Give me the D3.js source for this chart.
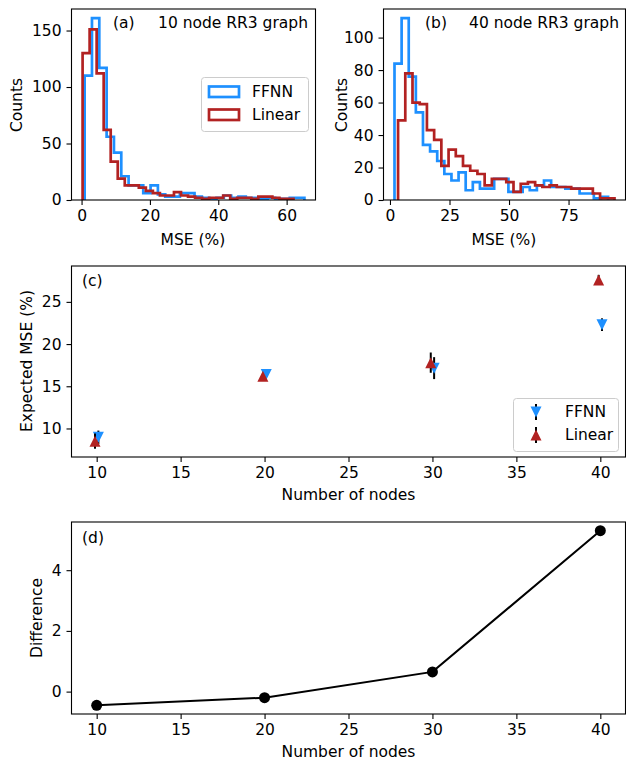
<!DOCTYPE html>
<html>
<head>
<meta charset="utf-8">
<script src="https://cdn.jsdelivr.net/npm/d3@7"></script>
<style>
  body { margin: 0; background: #fff; }
  svg { font-family: "DejaVu Sans", sans-serif; }
</style>
</head>
<body>
<svg id="fig" width="626" height="766"></svg>
<script>
// ---- data ----
// histogram counts (30 bins each) and the bin range of each histogram
let histA_ffnn   = [110,161,117,56,42,21,13,13,6,13,5,3,3,6,6,3,2,1,2,4,2,3,2,2,1,2,1,1,2,2]
let histA_linear = [130,151,112,62,34,19,13,13,11,8,6,4,4,7,4,3,2,1,2,2,4,1,2,2,1,3,3,2,1,1]
let rangeA_ffnn   = [0.9, 65.2]
let rangeA_linear = [0.3, 62.0]

let histB_ffnn   = [84,112,76,54,34,30,24,16,12,17,6,11,7,7,13,13,5,5,8,6,9,12,8,8,7,7,4,4,1,2]
let histB_linear = [49,78,60,59,43,37,21,31,27,21,18,16,9,13,13,11,5,10,11,9,8,9,8,8,7,7,7,4,1,1]
let rangeB_ffnn   = [1.9, 91.6]
let rangeB_linear = [3.4, 94.3]

let nodes     = [10, 20, 30, 40]
let mseFFNN   = [8.95, 16.4, 17.15, 22.3]
let errFFNN   = [0.8, 0.3, 1.3, 0.75]
let mseLinear = [8.5, 16.2, 17.8, 27.6]
let errLinear = [0.9, 0.3, 1.2, 0.6]
let difference = [-0.45, -0.2, 0.65, 5.3]

let ticksAx = [0, 20, 40, 60]
let ticksAy = [0, 50, 100, 150]
let ticksBx = [0, 25, 50, 75]
let ticksBy = [0, 20, 40, 60, 80, 100]
let ticksNodes = [10, 15, 20, 25, 30, 35, 40]
let ticksCy = [10, 15, 20, 25]
let ticksDy = [0, 2, 4]

let blue = "#1e90ff"
let red = "#b22222"
let fs = 15.5

let svg = d3.select("#fig")

// axes boxes in pixels
let boxA = {x0: 71.5, x1: 315.5, y0: 9, y1: 200}
let boxB = {x0: 383.5, x1: 625.5, y0: 9, y1: 200}
let boxC = {x0: 71.5, x1: 625.5, y0: 266, y1: 457}
let boxD = {x0: 71.5, x1: 625.5, y0: 522, y1: 714}

let pad5 = (lo, hi) => [lo - (hi - lo) * 0.05, hi + (hi - lo) * 0.05]

let drawAxes = (box, x, y, xt, yt, name) => {
    let g = svg.append("g")
    g.append("g")
        .attr("transform", `translate(0,${box.y1})`)
        .call(d3.axisBottom(x).tickValues(xt).tickSize(5).tickPadding(5).tickFormat(d3.format("d")))
        .call(a => a.select(".domain").remove())
    g.append("g")
        .attr("transform", `translate(${box.x0},0)`)
        .call(d3.axisLeft(y).tickValues(yt).tickSize(5).tickPadding(5).tickFormat(d3.format("d")))
        .call(a => a.select(".domain").remove())
    g.selectAll(".tick text").attr("font-size", fs).attr("font-family", "DejaVu Sans").attr("fill", "#000")
    g.selectAll(".tick line").attr("stroke", "#000").attr("stroke-width", 1.1)
    svg.append("defs").append("clipPath").attr("id", "clip" + name)
        .append("rect")
        .attr("x", box.x0).attr("y", box.y0)
        .attr("width", box.x1 - box.x0).attr("height", box.y1 - box.y0)
    return g
}

let drawFrame = (box) => {
    svg.append("rect")
        .attr("x", box.x0).attr("y", box.y0)
        .attr("width", box.x1 - box.x0).attr("height", box.y1 - box.y0)
        .attr("fill", "none").attr("stroke", "#000").attr("stroke-width", 1.1)
}

let label = (txt, x, y, opts = {}) => {
    let t = svg.append("text").text(txt)
        .attr("x", x).attr("y", y)
        .attr("font-size", fs)
        .attr("text-anchor", opts.anchor || "start")
    if (opts.rotate) t.attr("transform", `rotate(-90,${x},${y})`)
    return t
}

// step outline like matplotlib histtype='step'
let stepPath = (counts, range, x, y) => {
    let w = (range[1] - range[0]) / counts.length
    let pts = [[range[0], 0]]
    counts.forEach((c, i) => {
        pts.push([range[0] + i * w, c])
        pts.push([range[0] + (i + 1) * w, c])
    })
    pts.push([range[1], 0])
    return d3.line().x(d => x(d[0])).y(d => y(d[1]))(pts)
}

let drawHist = (box, name, ffnn, rf, linear, rl, xt, yt) => {
    let xdom = pad5(Math.min(rf[0], rl[0]), Math.max(rf[1], rl[1]))
    let x = d3.scaleLinear().domain(xdom).range([box.x0, box.x1])
    let ymax = d3.max(ffnn.concat(linear)) * 1.05
    let y = d3.scaleLinear().domain([0, ymax]).range([box.y1, box.y0])
    drawAxes(box, x, y, xt, yt, name)
    let hg = svg.append("g").attr("clip-path", `url(#clip${name})`)
    hg.append("path").attr("d", stepPath(ffnn, rf, x, y))
        .attr("fill", "none").attr("stroke", blue).attr("stroke-width", 2.7)
    hg.append("path").attr("d", stepPath(linear, rl, x, y))
        .attr("fill", "none").attr("stroke", red).attr("stroke-width", 2.7)
    drawFrame(box)
}

// ---- (a) and (b) ----
drawHist(boxA, "A", histA_ffnn, rangeA_ffnn, histA_linear, rangeA_linear, ticksAx, ticksAy)
drawHist(boxB, "B", histB_ffnn, rangeB_ffnn, histB_linear, rangeB_linear, ticksBx, ticksBy)

label("(a)", 113, 28)
label("10 node RR3 graph", 308, 28, {anchor: "end"})
label("(b)", 425, 28)
label("40 node RR3 graph", 619, 28, {anchor: "end"})
label("Counts", 22, 105, {anchor: "middle", rotate: true})
label("Counts", 347, 105, {anchor: "middle", rotate: true})
label("MSE (%)", 193, 245, {anchor: "middle"})
label("MSE (%)", 504, 245, {anchor: "middle"})

// legend (a)
let legA = svg.append("g")
legA.append("rect").attr("x", 201.5).attr("y", 77.5).attr("width", 107).attr("height", 54)
    .attr("rx", 3).attr("fill", "#fff").attr("fill-opacity", 0.8)
    .attr("stroke", "#cccccc").attr("stroke-width", 1)
;[["FFNN", blue], ["Linear", red]].forEach((d, i) => {
    legA.append("rect").attr("x", 209).attr("y", 86.5 + i * 23).attr("width", 30).attr("height", 10.5)
        .attr("fill", "none").attr("stroke", d[1]).attr("stroke-width", 2.7)
    legA.append("text").text(d[0]).attr("x", 252).attr("y", 97 + i * 23).attr("font-size", fs)
})

// ---- (c) ----
let xC = d3.scaleLinear().domain([8.5, 41.5]).range([boxC.x0, boxC.x1])
let yC = d3.scaleLinear().domain([6.62, 29.25]).range([boxC.y1, boxC.y0])
drawAxes(boxC, xC, yC, ticksNodes, ticksCy, "C")

let tri = (cx, cy, up, s) => {
    let h = s / 2
    return up
        ? `M${cx},${cy - h}L${cx - h},${cy + h}L${cx + h},${cy + h}Z`
        : `M${cx},${cy + h}L${cx - h},${cy - h}L${cx + h},${cy - h}Z`
}

let drawSeries = (vals, errs, color, up, dx) => {
    let g = svg.append("g")
    nodes.forEach((n, i) => {
        let cx = xC(n + dx)
        g.append("line").attr("x1", cx).attr("x2", cx)
            .attr("y1", yC(vals[i] - errs[i])).attr("y2", yC(vals[i] + errs[i]))
            .attr("stroke", "#000").attr("stroke-width", 2)
        g.append("path").attr("d", tri(cx, yC(vals[i]), up, 11)).attr("fill", color)
    })
}
drawSeries(mseFFNN, errFFNN, blue, false, 0.1)
drawSeries(mseLinear, errLinear, red, true, -0.1)
drawFrame(boxC)

label("(c)", 82, 286)
label("Expected MSE (%)", 32, 361, {anchor: "middle", rotate: true})
label("Number of nodes", 348.5, 500, {anchor: "middle"})

let legC = svg.append("g")
legC.append("rect").attr("x", 513.5).attr("y", 398.5).attr("width", 105).attr("height", 53)
    .attr("rx", 3).attr("fill", "#fff").attr("fill-opacity", 0.8)
    .attr("stroke", "#cccccc").attr("stroke-width", 1)
;[["FFNN", blue, false], ["Linear", red, true]].forEach((d, i) => {
    let cy = 412 + i * 23
    legC.append("line").attr("x1", 536).attr("x2", 536).attr("y1", cy - 8).attr("y2", cy + 8)
        .attr("stroke", "#000").attr("stroke-width", 2)
    legC.append("path").attr("d", tri(536, cy, d[2], 11)).attr("fill", d[1])
    legC.append("text").text(d[0]).attr("x", 565).attr("y", cy + 5).attr("font-size", fs)
})

// ---- (d) ----
let xD = d3.scaleLinear().domain([8.5, 41.5]).range([boxD.x0, boxD.x1])
let yD = d3.scaleLinear().domain(pad5(d3.min(difference), d3.max(difference))).range([boxD.y1, boxD.y0])
drawAxes(boxD, xD, yD, ticksNodes, ticksDy, "D")

let diffPts = nodes.map((n, i) => [n, difference[i]])
svg.append("path")
    .attr("d", d3.line().x(d => xD(d[0])).y(d => yD(d[1]))(diffPts))
    .attr("fill", "none").attr("stroke", "#000").attr("stroke-width", 2)
svg.append("g").selectAll("circle").data(diffPts).enter().append("circle")
    .attr("cx", d => xD(d[0])).attr("cy", d => yD(d[1])).attr("r", 5.5).attr("fill", "#000")
drawFrame(boxD)

label("(d)", 82, 543)
label("Difference", 42, 618, {anchor: "middle", rotate: true})
label("Number of nodes", 348.5, 757, {anchor: "middle"})
</script>
</body>
</html>
